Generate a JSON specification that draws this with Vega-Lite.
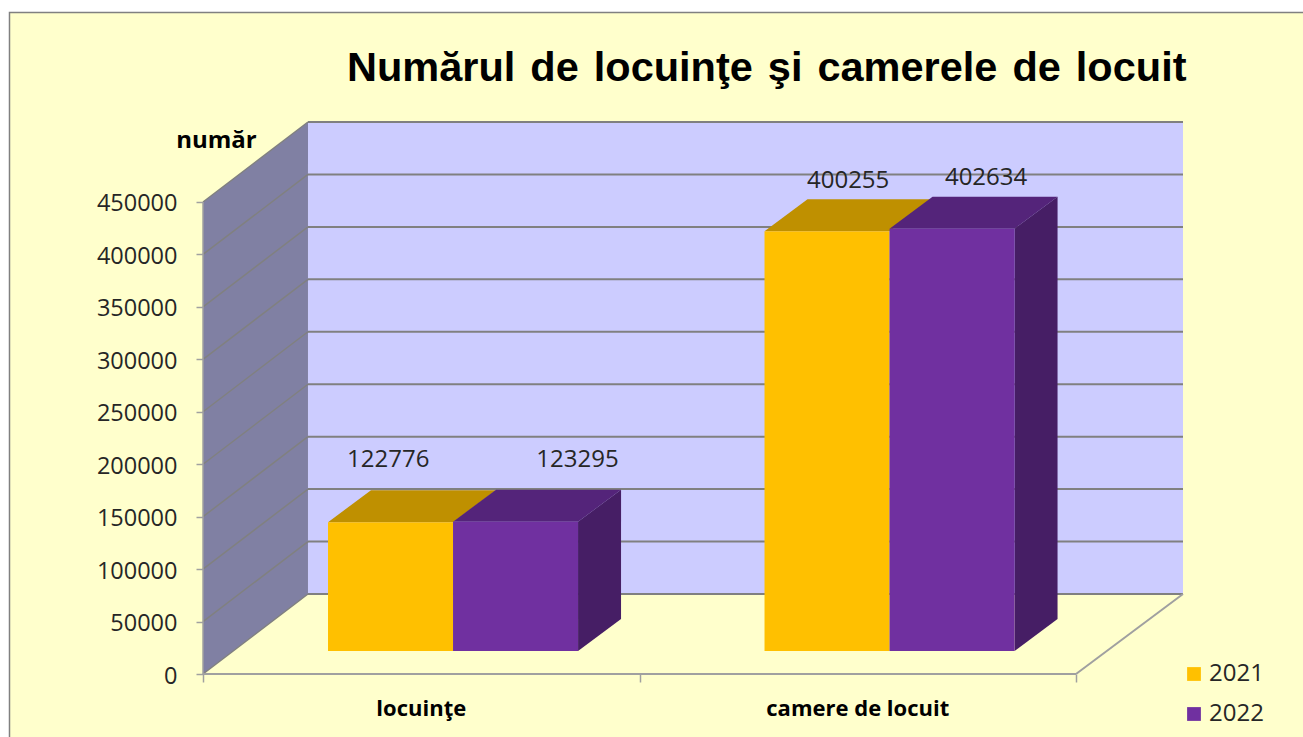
{
"$schema":"https://vega.github.io/schema/vega-lite/v6.json",
"autosize":{"type":"none"},
"padding":{"left":203,"top":122,"right":120,"bottom":63},
"width":980,"height":552,
"background":"#FFFFFF",
"title":{"text":"Numărul \u200ade \u200alocuinţe \u200aşi \u200acamerele \u200ade \u200alocuit","anchor":"start","frame":"group","dx":144,"offset":0,"dy":111,"font":"Liberation Sans","fontSize":41.5,"fontWeight":"bold","color":"#000000","baseline":"alphabetic","zindex":1},
"datasets":{
"bars":[
{"category":"locuinţe","year":"2021","value":122776},
{"category":"locuinţe","year":"2022","value":123295},
{"category":"camere de locuit","year":"2021","value":400255},
{"category":"camere de locuit","year":"2022","value":402634}],
"grid":[{"v":0},{"v":50000},{"v":100000},{"v":150000},{"v":200000},{"v":250000},{"v":300000},{"v":350000},{"v":400000},{"v":450000}]
},
"config":{"view":{"stroke":null},"axis":{"grid":false}},
"layer":[
{"mark":{"type":"rect","fill":"#FFFFCC","stroke":"#808080","strokeWidth":1.5,"clip":false},
 "data":{"values":[{"panel":"chart area"}]},
 "encoding":{
  "x":{"datum":-0.4433,"type":"quantitative","scale":{"domain":[0,2.2451],"nice":false,"zero":false},
    "axis":{"orient":"bottom","values":[0,1,2],"labels":false,"domain":false,"title":null,"tickColor":"#A0A0A0","tickSize":8,"tickWidth":1.5,"zindex":1}},
  "x2":{"datum":2.6},
  "y":{"datum":630700,"type":"quantitative","scale":{"domain":[0,526271],"nice":false,"zero":false},
    "axis":{"orient":"left","values":[0,50000,100000,150000,200000,250000,300000,350000,400000,450000],"format":"d","domain":false,"title":"număr","titleAngle":0,"titleAlign":"center","titleBaseline":"middle","titleX":13,"titleY":18,"titleFont":"Open Sans","titleFontSize":24,"titleFontWeight":"bold","titleColor":"#000000","labelFont":"Open Sans","labelFontSize":23.5,"labelColor":"#262626","labelPadding":19,"labelOffset":2,"labelOverlap":false,"tickColor":"#A0A0A0","tickSize":7,"tickWidth":1.5,"zindex":1}},
  "y2":{"datum":-72000}}},
{"mark":{"type":"rect","fill":"#CCCCFF"},
 "data":{"values":[{"panel":"back wall"}]},
 "encoding":{"x":{"datum":0.2405,"type":"quantitative"},"x2":{"datum":2.2451},"y":{"datum":76271,"type":"quantitative"},"y2":{"datum":526271}}},
{"mark":{"type":"area","fill":"#8080A3","orient":"vertical"},
 "data":{"values":[{"t":0},{"t":1}]},
 "transform":[{"calculate":"datum.t*0.2405","as":"px"},{"calculate":"datum.t*76271","as":"py"},{"calculate":"450000+datum.t*76271","as":"py2"}],
 "encoding":{"x":{"field":"px","type":"quantitative"},"y":{"field":"py","type":"quantitative"},"y2":{"field":"py2"}}},
{"mark":{"type":"rule","stroke":"#808080","strokeWidth":2},
 "data":{"name":"grid"},
 "transform":[{"calculate":"datum.v+76271","as":"yb"}],
 "encoding":{"x":{"datum":0.2405,"type":"quantitative"},"x2":{"datum":2.2451},"y":{"field":"yb","type":"quantitative"}}},
{"mark":{"type":"line","stroke":"#808080","strokeWidth":1.5},
 "data":{"name":"grid"},
 "transform":[{"calculate":"[0,1]","as":"t"},{"flatten":["t"]},{"calculate":"datum.t*0.2405","as":"px"},{"calculate":"datum.v+datum.t*76271","as":"py"}],
 "encoding":{"x":{"field":"px","type":"quantitative"},"y":{"field":"py","type":"quantitative"},"detail":{"field":"v"}}},
{"mark":{"type":"rule","stroke":"#A0A0A0","strokeWidth":2},
 "data":{"values":[{"edge":"front"}]},
 "encoding":{"x":{"datum":0,"type":"quantitative"},"x2":{"datum":2},"y":{"datum":0,"type":"quantitative"}}},
{"mark":{"type":"rule","stroke":"#A0A0A0","strokeWidth":1.5},
 "data":{"values":[{"edge":"left"}]},
 "encoding":{"x":{"datum":0,"type":"quantitative"},"y":{"datum":0,"type":"quantitative"},"y2":{"datum":450000}}},
{"mark":{"type":"line","stroke":"#A0A0A0","strokeWidth":2},
 "data":{"values":[{"t":0},{"t":1}]},
 "transform":[{"calculate":"2+datum.t*0.2451","as":"px"},{"calculate":"datum.t*76271","as":"py"}],
 "encoding":{"x":{"field":"px","type":"quantitative"},"y":{"field":"py","type":"quantitative"}}},
{"mark":{"type":"area","orient":"horizontal"},
 "data":{"name":"bars"},
 "transform":[{"calculate":"(datum.category=='locuinţe'?0:1)+0.2864+(datum.year=='2022'?0.2864:0)","as":"xa"},{"calculate":"[0,1]","as":"t"},{"flatten":["t"]},{"calculate":"datum.xa+datum.t*0.0985","as":"px"},{"calculate":"datum.xa+0.2864+datum.t*0.0985","as":"px2"},{"calculate":"21928+datum.value+datum.t*30508","as":"py"}],
 "encoding":{"x":{"field":"px","type":"quantitative"},"x2":{"field":"px2"},"y":{"field":"py","type":"quantitative"},"detail":{"field":"category"},
  "color":{"field":"year","type":"nominal","legend":null,"scale":{"domain":["2021","2022"],"range":["#BF9000","#54247A"]}}}},
{"mark":{"type":"area","orient":"vertical","fill":"#461E65"},
 "data":{"name":"bars"},
 "transform":[{"filter":"datum.year=='2022'"},{"calculate":"(datum.category=='locuinţe'?0:1)+0.2864+0.2864+0.2864","as":"xa"},{"calculate":"[0,1]","as":"t"},{"flatten":["t"]},{"calculate":"datum.xa+datum.t*0.0985","as":"px"},{"calculate":"21928+datum.t*30508","as":"py"},{"calculate":"21928+datum.value+datum.t*30508","as":"py2"}],
 "encoding":{"x":{"field":"px","type":"quantitative"},"y":{"field":"py","type":"quantitative"},"y2":{"field":"py2"},"detail":{"field":"category"}}},
{"mark":{"type":"rect"},
 "data":{"name":"bars"},
 "transform":[{"calculate":"(datum.category=='locuinţe'?0:1)+0.2864+(datum.year=='2022'?0.2864:0)","as":"xa"},{"calculate":"datum.xa+0.2864","as":"xb"},{"calculate":"21928+datum.value","as":"yt"}],
 "encoding":{"x":{"field":"xa","type":"quantitative"},"x2":{"field":"xb"},"y":{"field":"yt","type":"quantitative"},"y2":{"datum":21928},
  "color":{"field":"year","type":"nominal","scale":{"domain":["2021","2022"],"range":["#FFC000","#7030A0"]},
   "legend":{"title":null,"orient":"none","legendX":979,"legendY":540,"symbolType":"square","symbolSize":190,"symbolStrokeWidth":0,"labelFont":"Open Sans","labelFontSize":24,"labelColor":"#262626","labelOffset":3,"rowPadding":16,"padding":0,"zindex":1}}}},
{"mark":{"type":"text","font":"Open Sans","fontSize":24,"color":"#262626","align":"center","baseline":"middle"},
 "data":{"name":"bars"},
 "transform":[{"calculate":"{'122776':0.4243,'123295':0.8580,'400255':1.4780,'402634':1.7940}[''+datum.value]","as":"lx"},{"calculate":"21928+datum.value+(datum.value<200000?59000:48000)","as":"ly"}],
 "encoding":{"x":{"field":"lx","type":"quantitative"},"y":{"field":"ly","type":"quantitative"},"text":{"field":"value","type":"nominal"}}},
{"mark":{"type":"text","font":"Open Sans","fontSize":22,"fontWeight":"bold","color":"#000000","align":"center","baseline":"middle"},
 "data":{"values":[{"category":"locuinţe","pos":0.5},{"category":"camere de locuit","pos":1.5}]},
 "encoding":{"x":{"field":"pos","type":"quantitative"},"y":{"datum":-33400,"type":"quantitative"},"text":{"field":"category"}}}
],
"resolve":{"scale":{"color":"independent"}}
}
